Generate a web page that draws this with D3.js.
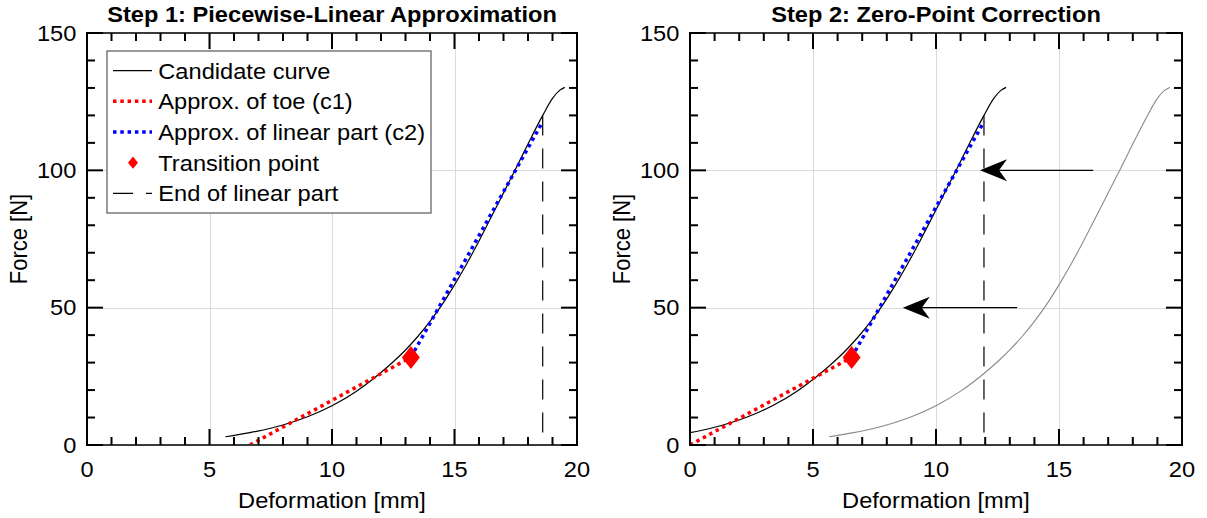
<!DOCTYPE html>
<html>
<head>
<meta charset="utf-8">
<script src="https://cdn.jsdelivr.net/npm/d3@7"></script>
<style>
  body { margin: 0; background: #fff; }
  svg { display: block; }
  text { font-family: "Liberation Sans", Arial, Helvetica, sans-serif; fill: #000; }
</style>
</head>
<body>
<svg id="fig" width="1207" height="518"></svg>
<script>
// ---- data -------------------------------------------------------------
const xTicks = [0, 5, 10, 15, 20];
const yTicks = [0, 50, 100, 150];

// measured force-deformation curve (candidate)
const candX = [5.65, 6.65, 7.5, 8.3, 9.0, 10.0, 11.0, 12.0, 12.5, 13.0, 13.5, 14.0, 14.5,
               15.0, 15.5, 16.0, 16.5, 17.0, 17.5, 18.0, 18.6, 19.0, 19.3, 19.5];
const candF = [3.0, 4.5, 6.1, 8.1, 10.3, 14.3, 19.6, 26.4, 30.3, 34.6, 39.5, 45.0, 51.2,
               58.3, 66.0, 74.3, 83.0, 91.8, 100.6, 109.6, 120.0, 126.2, 129.2, 130.2];

// piecewise-linear approximation
const toeStart   = [6.65, 0];      // x-intercept of c1 = zero point
const transition = [13.22, 31.9]; // intersection of c1 and c2
const linearEnd  = [18.6, 117.7];  // end of c2
const endOfLinear = [18.6, 120];   // vertical marker

// shift applied in step 2
const zeroShift = toeStart[0];

// annotation arrows (data coordinates of the right panel)
const arrowTails = [[16.39, 100], [13.3, 50]];
const arrowTips  = [[11.79, 100], [8.65, 50]];

const titles = ["Step 1: Piecewise-Linear Approximation", "Step 2: Zero-Point Correction"];
const xLabel = "Deformation [mm]";
const yLabel = "Force [N]";
const legendLabels = ["Candidate curve", "Approx. of toe (c1)", "Approx. of linear part (c2)",
                      "Transition point", "End of linear part"];

// ---- layout -------------------------------------------------------------
const svg = d3.select("#fig");
const STRETCH = 1.075;
const yTop = 33, yBottom = 445;
const panels = [{ x0: 87, x1: 577 }, { x0: 690, x1: 1182 }];

const RED = "#ff0000", BLUE = "#0000ff";
const dotDash = "3.5 3.8";
const longDash = "20 13";

function stretchedText(g, str, x, y, opts = {}) {
  const t = g.append("text")
    .attr("transform", `translate(${x},${y}) scale(${STRETCH},1)` + (opts.rotate ? ` rotate(${opts.rotate})` : ""))
    .attr("text-anchor", opts.anchor || "start")
    .style("font-size", (opts.size || 22) + "px")
    .text(str);
  if (opts.bold) t.style("font-weight", "bold");
  return t;
}

function diamondPath(cx, cy, hw, hh) {
  return `M${cx},${cy - hh}L${cx + hw},${cy}L${cx},${cy + hh}L${cx - hw},${cy}Z`;
}

const curveLine = (xs, ys) => d3.range(xs.length).map(i => [xs[i], ys[i]]);

panels.forEach((p, idx) => {
  const x = d3.scaleLinear().domain([0, 20]).range([p.x0, p.x1]);
  const y = d3.scaleLinear().domain([0, 150]).range([yBottom, yTop]);
  const g = svg.append("g");
  const line = d3.line().x(d => x(d[0])).y(d => y(d[1]));
  const smooth = d3.line().x(d => x(d[0])).y(d => y(d[1])).curve(d3.curveMonotoneX);

  // grid
  g.append("g").selectAll("line").data(xTicks.slice(1, -1)).join("line")
    .attr("x1", d => Math.round(x(d)) + 0.5).attr("x2", d => Math.round(x(d)) + 0.5)
    .attr("y1", yTop).attr("y2", yBottom)
    .attr("stroke", "#dadada").attr("stroke-width", 1);
  g.append("g").selectAll("line").data(yTicks.slice(1, -1)).join("line")
    .attr("y1", d => Math.round(y(d)) + 0.5).attr("y2", d => Math.round(y(d)) + 0.5)
    .attr("x1", p.x0).attr("x2", p.x1)
    .attr("stroke", "#dadada").attr("stroke-width", 1);

  // clip to the axes box
  const clipId = "clip" + idx;
  svg.append("clipPath").attr("id", clipId).append("rect")
    .attr("x", p.x0).attr("y", yTop).attr("width", p.x1 - p.x0).attr("height", yBottom - yTop);
  const plot = g.append("g").attr("clip-path", `url(#${clipId})`);

  const shift = idx === 0 ? 0 : zeroShift;
  const cand = curveLine(candX, candF);

  if (idx === 1) {
    // original curve in gray
    plot.append("path").attr("d", smooth(cand))
      .attr("fill", "none").attr("stroke", "#8a8a8a").attr("stroke-width", 1.1);
  }
  // candidate curve (shifted in step 2)
  plot.append("path").attr("d", smooth(cand.map(d => [d[0] - shift, d[1]])))
    .attr("fill", "none").attr("stroke", "#000").attr("stroke-width", 1.2);

  const sh = d => [d[0] - shift, d[1]];
  // c1 (toe)
  plot.append("path").attr("d", line([sh(toeStart), sh(transition)]))
    .attr("fill", "none").attr("stroke", RED).attr("stroke-width", 3.5)
    .attr("stroke-dasharray", dotDash);
  // c2 (linear part)
  plot.append("path").attr("d", line([sh(transition), sh(linearEnd)]))
    .attr("fill", "none").attr("stroke", BLUE).attr("stroke-width", 3.5)
    .attr("stroke-dasharray", dotDash);
  // end of linear part
  plot.append("path").attr("d", line([sh(endOfLinear), [endOfLinear[0] - shift, 0]]))
    .attr("fill", "none").attr("stroke", "#000").attr("stroke-width", 1.2)
    .attr("stroke-dasharray", longDash);
  // transition point
  const tp = sh(transition);
  plot.append("path").attr("d", diamondPath(x(tp[0]), y(tp[1]), 9, 11.5)).attr("fill", RED);

  // frame
  g.append("line").attr("x1", p.x0).attr("x2", p.x1).attr("y1", yTop).attr("y2", yTop)
    .attr("stroke", "#3a3a3a").attr("stroke-width", 2);
  g.append("line").attr("x1", p.x0).attr("x2", p.x1).attr("y1", yBottom).attr("y2", yBottom)
    .attr("stroke", "#3a3a3a").attr("stroke-width", 2);
  g.append("line").attr("x1", p.x0).attr("x2", p.x0).attr("y1", yTop - 1).attr("y2", yBottom + 1)
    .attr("stroke", "#000").attr("stroke-width", 2);
  g.append("line").attr("x1", p.x1).attr("x2", p.x1).attr("y1", yTop - 1).attr("y2", yBottom + 1)
    .attr("stroke", "#000").attr("stroke-width", 2);

  // ticks (inward, all four sides)
  const ticks = g.append("g").attr("stroke", "#000").attr("stroke-width", 2);
  d3.range(0, 21, 1).forEach(v => {
    const len = v % 5 === 0 ? 16 : 8;
    ticks.append("line").attr("x1", x(v)).attr("x2", x(v)).attr("y1", yBottom).attr("y2", yBottom - len);
    ticks.append("line").attr("x1", x(v)).attr("x2", x(v)).attr("y1", yTop).attr("y2", yTop + len);
  });
  d3.range(0, 151, 10).forEach(v => {
    const len = v % 50 === 0 ? 16 : 8;
    ticks.append("line").attr("y1", y(v)).attr("y2", y(v)).attr("x1", p.x0).attr("x2", p.x0 + len);
    ticks.append("line").attr("y1", y(v)).attr("y2", y(v)).attr("x1", p.x1).attr("x2", p.x1 - len);
  });

  // tick labels
  xTicks.forEach(v => stretchedText(g, v, x(v), 477, { anchor: "middle" }));
  yTicks.forEach(v => stretchedText(g, v, p.x0 - 10.6, y(v) + 7.8, { anchor: "end" }));

  // axis labels and title
  const cx = (p.x0 + p.x1) / 2;
  stretchedText(g, xLabel, cx, 508, { anchor: "middle" });
  stretchedText(g, yLabel, p.x0 - 60, (yTop + yBottom) / 2, { anchor: "middle", rotate: -90 });
  stretchedText(g, titles[idx], cx, 22, { anchor: "middle", bold: true });

  if (idx === 0) {
    // legend
    const lg = g.append("g");
    lg.append("rect").attr("x", 107).attr("y", 51).attr("width", 324).attr("height", 162)
      .attr("fill", "#fff").attr("stroke", "#666").attr("stroke-width", 1.3);
    const rowY = i => 70.7 + i * 30.65;
    const sx0 = 113, sx1 = 152;
    lg.append("line").attr("x1", sx0).attr("x2", sx1).attr("y1", rowY(0)).attr("y2", rowY(0))
      .attr("stroke", "#000").attr("stroke-width", 1.2);
    lg.append("line").attr("x1", sx0).attr("x2", sx1).attr("y1", rowY(1)).attr("y2", rowY(1))
      .attr("stroke", RED).attr("stroke-width", 3.5).attr("stroke-dasharray", dotDash);
    lg.append("line").attr("x1", sx0).attr("x2", sx1).attr("y1", rowY(2)).attr("y2", rowY(2))
      .attr("stroke", BLUE).attr("stroke-width", 3.5).attr("stroke-dasharray", dotDash);
    lg.append("path").attr("d", diamondPath((sx0 + sx1) / 2 + 0.5, rowY(3), 5, 6.2)).attr("fill", RED);
    lg.append("line").attr("x1", sx0).attr("x2", sx1).attr("y1", rowY(4)).attr("y2", rowY(4))
      .attr("stroke", "#000").attr("stroke-width", 1.2).attr("stroke-dasharray", longDash);
    legendLabels.forEach((s, i) => stretchedText(lg, s, 158.3, rowY(i) + 8));
  } else {
    // arrows showing the shift to the zero point
    const ag = g.append("g");
    arrowTails.forEach((t, i) => {
      const tip = arrowTips[i];
      const tx = x(tip[0]), ty = y(tip[1]);
      const L = 27, HW = 11, notch = 19;
      ag.append("line").attr("x1", x(t[0])).attr("x2", tx + notch).attr("y1", y(t[1])).attr("y2", ty)
        .attr("stroke", "#000").attr("stroke-width", 1.3);
      ag.append("path")
        .attr("d", `M${tx},${ty}L${tx + L},${ty - HW}L${tx + notch},${ty}L${tx + L},${ty + HW}Z`)
        .attr("fill", "#000");
    });
  }
});
</script>
</body>
</html>
